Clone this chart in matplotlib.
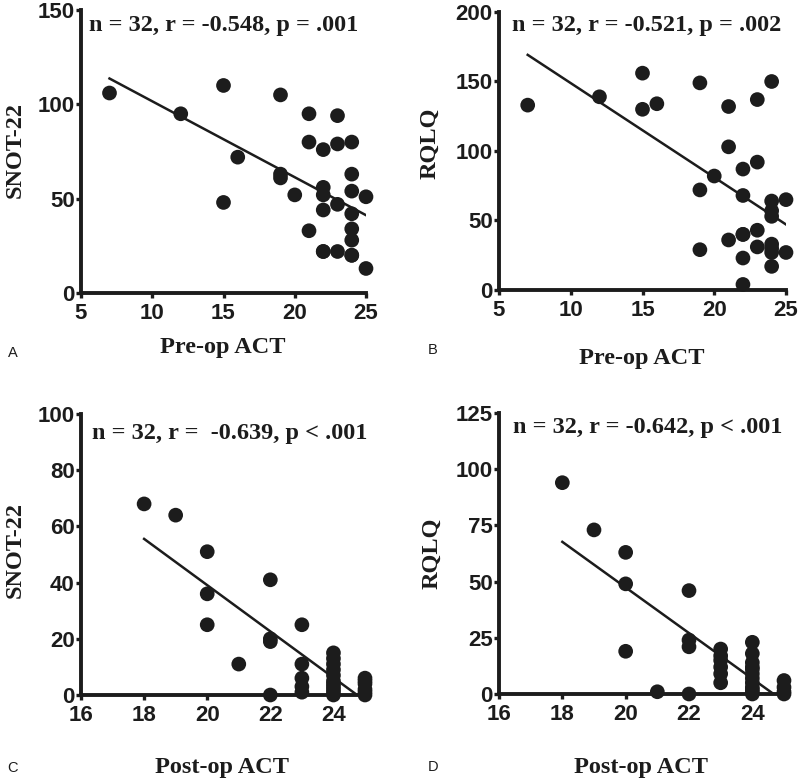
import numpy as np
import matplotlib.pyplot as plt

# panel A: pre-op ACT vs SNOT-22
pre_act_a = [7, 12, 15, 15, 16, 19, 19, 19, 20, 21, 21, 21, 22, 22, 22, 22, 22, 22,
             23, 23, 23, 23, 24, 24, 24, 24, 24, 24, 24, 24, 25, 25]
pre_snot = [106, 95, 110, 48, 72, 105, 63, 61, 52, 95, 80, 33, 76, 56, 52, 44, 22, 22,
            94, 79, 47, 22, 80, 63, 54, 42, 34, 28, 20, 20, 51, 13]

# panel B: pre-op ACT vs RQLQ
pre_act_b = [7, 12, 15, 15, 16, 19, 19, 19, 20, 21, 21, 21, 22, 22, 22, 22, 22, 22,
             23, 23, 23, 23, 24, 24, 24, 24, 24, 24, 24, 24, 25, 25]
pre_rqlq = [133, 139, 156, 130, 134, 149, 72, 29, 82, 132, 103, 36, 87, 68, 40, 40, 23, 4,
            137, 92, 43, 31, 150, 64, 57, 53, 33, 30, 27, 17, 65, 27]

# panel C: post-op ACT vs SNOT-22
post_act_c = [18, 19, 20, 20, 20, 21, 22, 22, 22, 22, 23, 23, 23, 23, 23,
              24, 24, 24, 24, 24, 24, 24, 24, 24, 24, 24, 25, 25, 25, 25, 25, 25]
post_snot = [68, 64, 51, 36, 25, 11, 41, 20, 19, 0, 25, 11, 6, 3, 1,
             15, 13, 11, 9, 7, 5, 4, 3, 2, 1, 0, 6, 5, 4, 2, 1, 0]

# panel D: post-op ACT vs RQLQ
post_act_d = [18, 19, 20, 20, 20, 21, 22, 22, 22, 22, 23, 23, 23, 23, 23, 23,
              24, 24, 24, 24, 24, 24, 24, 24, 24, 24, 24, 24, 25, 25, 25, 25]
post_rqlq = [94, 73, 63, 49, 19, 1, 46, 24, 21, 0, 20, 17, 15, 12, 9, 5,
             23, 18, 14, 12, 11, 9, 7, 5, 3, 2, 1, 0, 6, 3, 1, 0]

stats = ['n = 32, r = -0.548, p = .001', 'n = 32, r = -0.521, p = .002',
         'n = 32, r =  -0.639, p < .001', 'n = 32, r = -0.642, p < .001']

W, H = 800, 779
fig = plt.figure(figsize=(W / 100, H / 100), dpi=100)

ink = '#1c1c1c'
serif = 'Liberation Serif'
sans = 'Liberation Sans'


def box(l, t, r, b):
    return [l / W, 1 - b / H, (r - l) / W, (b - t) / H]


panels = [
    dict(rect=box(81, 10, 366, 293), x=pre_act_a, y=pre_snot, xlim=(5, 25), xt=[5, 10, 15, 20, 25],
         ylim=(0, 150), yt=[0, 50, 100, 150], ylab='SNOT-22', ylpos=(15, 150),
         xlab='Pre-op ACT', xlpos=(223, 348), let='A', letpos=(13, 353), txt=(89, 26)),
    dict(rect=box(499, 12, 786, 290), x=pre_act_b, y=pre_rqlq, xlim=(5, 25), xt=[5, 10, 15, 20, 25],
         ylim=(0, 200), yt=[0, 50, 100, 150, 200], ylab='RQLQ', ylpos=(430, 143),
         xlab='Pre-op ACT', xlpos=(642, 358), let='B', letpos=(433, 350), txt=(512, 26)),
    dict(rect=box(81, 414, 365, 695), x=post_act_c, y=post_snot, xlim=(16, 25), xt=[16, 18, 20, 22, 24],
         ylim=(0, 100), yt=[0, 20, 40, 60, 80, 100], ylab='SNOT-22', ylpos=(15, 550),
         xlab='Post-op ACT', xlpos=(222, 767), let='C', letpos=(13, 768), txt=(92, 433)),
    dict(rect=box(499, 413, 784, 694), x=post_act_d, y=post_rqlq, xlim=(16, 25), xt=[16, 18, 20, 22, 24],
         ylim=(0, 125), yt=[0, 25, 50, 75, 100, 125], ylab='RQLQ', ylpos=(432, 553),
         xlab='Post-op ACT', xlpos=(641, 767), let='D', letpos=(433, 767), txt=(513, 428)),
]

for p, s in zip(panels, stats):
    ax = fig.add_axes(p['rect'])
    x = np.array(p['x'], dtype=float)
    y = np.array(p['y'], dtype=float)
    ax.scatter(x, y, s=112, color=ink, edgecolors='none', zorder=3, clip_on=False)
    k, c = np.polyfit(x, y, 1)
    xs = np.array([x.min(), x.max()])
    ax.plot(xs, k * xs + c, color=ink, lw=1.8, zorder=2)
    ax.set_xlim(*p['xlim'])
    ax.set_ylim(*p['ylim'])
    ax.set_xticks(p['xt'])
    ax.set_yticks(p['yt'])
    for side in ['top', 'right']:
        ax.spines[side].set_visible(False)
    for side in ['left', 'bottom']:
        ax.spines[side].set_linewidth(2.8)
        ax.spines[side].set_color(ink)
    ax.tick_params(direction='out', length=3.5, width=2.4, color=ink)
    ax.tick_params(axis='x', pad=3.5)
    ax.tick_params(axis='y', pad=1.0)
    for lab in ax.get_xticklabels() + ax.get_yticklabels():
        lab.set_fontfamily(sans)
        lab.set_fontweight('bold')
        lab.set_fontsize(16)
        lab.set_color(ink)
    fig.text(p['txt'][0] / W, 1 - p['txt'][1] / H, s, family=serif, weight='bold',
             fontsize=17.5, color=ink, ha='left', va='center')
    fig.text(p['xlpos'][0] / W, 1 - p['xlpos'][1] / H, p['xlab'], family=serif, weight='bold',
             fontsize=17.5, color=ink, ha='center', va='center')
    fig.text(p['ylpos'][0] / W, 1 - p['ylpos'][1] / H, p['ylab'], family=serif, weight='bold',
             fontsize=17.5, color=ink, ha='center', va='center', rotation=90)
    fig.text(p['letpos'][0] / W, 1 - p['letpos'][1] / H, p['let'], family=sans,
             fontsize=10.5, color=ink, ha='center', va='center')

fig.savefig('out.png', dpi=100, facecolor='white')
